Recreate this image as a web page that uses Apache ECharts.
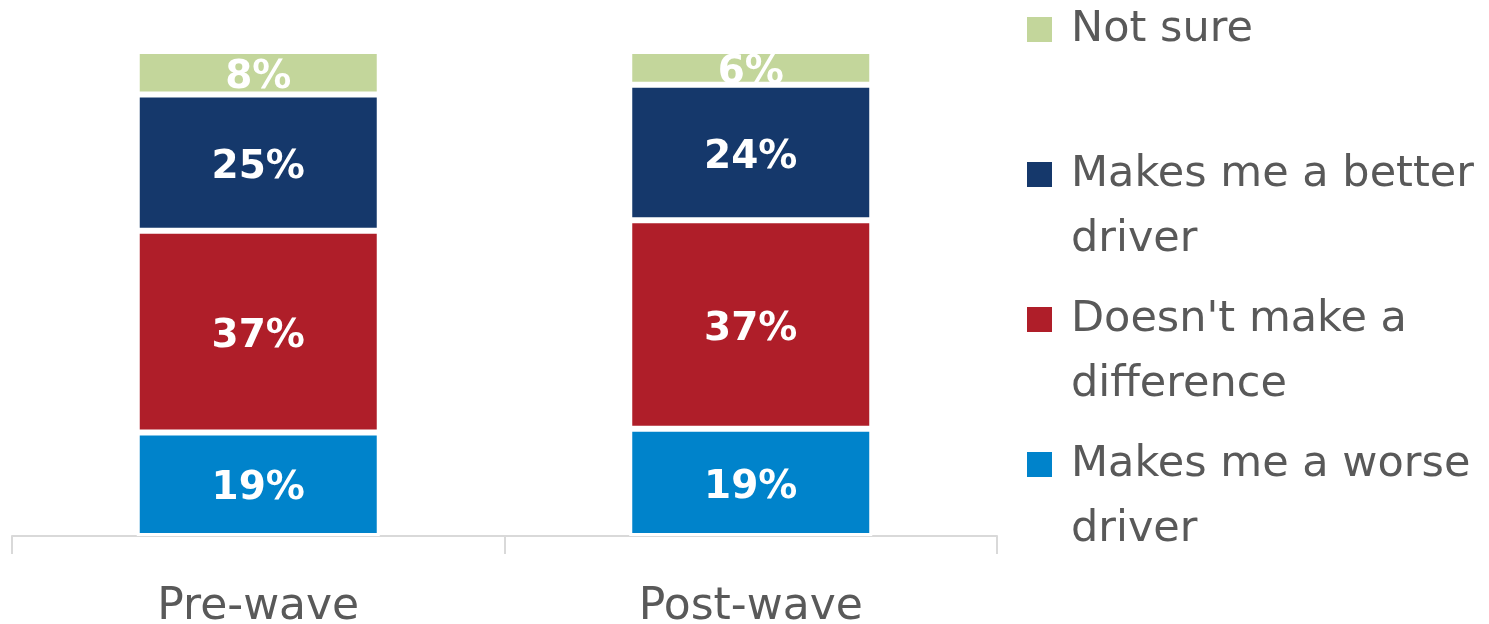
<!DOCTYPE html>
<html>
<head>
<meta charset="utf-8">
<script src="https://cdn.jsdelivr.net/npm/echarts@6/dist/echarts.min.js"></script>
<style>html,body{margin:0;padding:0;background:#fff;}#c{width:1489px;height:624px;}</style>
</head>
<body>
<div id="c"></div>
<script>
// Data (percent values as labelled in the reference; bars drawn as 100% stacked)
var categories = ['Pre-wave', 'Post-wave'];
var seriesNames = ['Makes me a worse driver', "Doesn't make a difference", 'Makes me a better driver', 'Not sure'];
var worse = [19, 19];
var noDiff = [37, 37];
var better = [25, 24];
var notSure = [8, 6];
var legendLines = {
  'Not sure': ['Not sure', ''],
  'Makes me a better driver': ['Makes me a better', 'driver'],
  "Doesn't make a difference": ["Doesn't make a", 'difference'],
  'Makes me a worse driver': ['Makes me a worse', 'driver']
};

var colors = ['#0083CB', '#AF1E29', '#15386B', '#C3D69B'];
var values = [worse, noDiff, better, notSure];
var totals = categories.map(function (_, i) {
  return values.reduce(function (s, arr) { return s + arr[i]; }, 0);
});

var FONT = 'DejaVu Sans';
var series = values.map(function (arr, k) {
  return {
    name: seriesNames[k],
    type: 'bar',
    stack: 'total',
    barWidth: 243,
    itemStyle: { color: colors[k], borderColor: '#ffffff', borderWidth: 3 },
    label: {
      show: true,
      position: 'inside',
      offset: [0, 5],
      color: '#ffffff',
      fontFamily: FONT,
      fontWeight: 'bold',
      fontSize: 39,
      formatter: function (p) { return p.data.raw + '%'; }
    },
    data: arr.map(function (v, i) { return { value: v / totals[i] * 100, raw: v }; })
  };
});

var rich = {
  s: { width: 25, height: 25, lineHeight: 65 },
  t: { fontFamily: FONT, fontSize: 43, color: '#595959', lineHeight: 65, padding: [0, 0, 0, 19] }
};
colors.forEach(function (c, k) {
  rich['m' + k] = { width: 25, height: 25, backgroundColor: c, lineHeight: 65 };
});

var legendOrder = ['Not sure', 'Makes me a better driver', "Doesn't make a difference", 'Makes me a worse driver'];

var option = {
  backgroundColor: '#ffffff',
  animation: false,
  grid: { left: 12, right: 492, top: 51, bottom: 88, containLabel: false, outerBoundsMode: 'none' },
  legend: {
    orient: 'vertical',
    left: 1021,
    top: 8,
    padding: 0,
    itemGap: 37,
    itemWidth: 0,
    itemHeight: 0,
    icon: 'rect',
    data: legendOrder,
    textStyle: { rich: rich, fontFamily: FONT, fontSize: 43, color: '#595959' },
    formatter: function (name) {
      var k = seriesNames.indexOf(name);
      var l = legendLines[name];
      var second = l[1] ? '{s|}{t|' + l[1] + '}' : '{s|}';
      return '{m' + k + '|}{t|' + l[0] + '}\n' + second;
    }
  },
  xAxis: {
    type: 'category',
    data: categories,
    axisLine: { show: true, lineStyle: { color: '#D9D9D9', width: 2 } },
    axisTick: { show: true, length: 18, lineStyle: { color: '#D9D9D9', width: 2 } },
    axisLabel: { fontFamily: FONT, fontSize: 44, color: '#595959', margin: 50 }
  },
  yAxis: {
    type: 'value', min: 0, max: 100, show: false,
    splitLine: { show: false }
  },
  series: series
};

var chart = echarts.init(document.getElementById('c'), null, { renderer: 'canvas' });
chart.setOption(option);
</script>
</body>
</html>
